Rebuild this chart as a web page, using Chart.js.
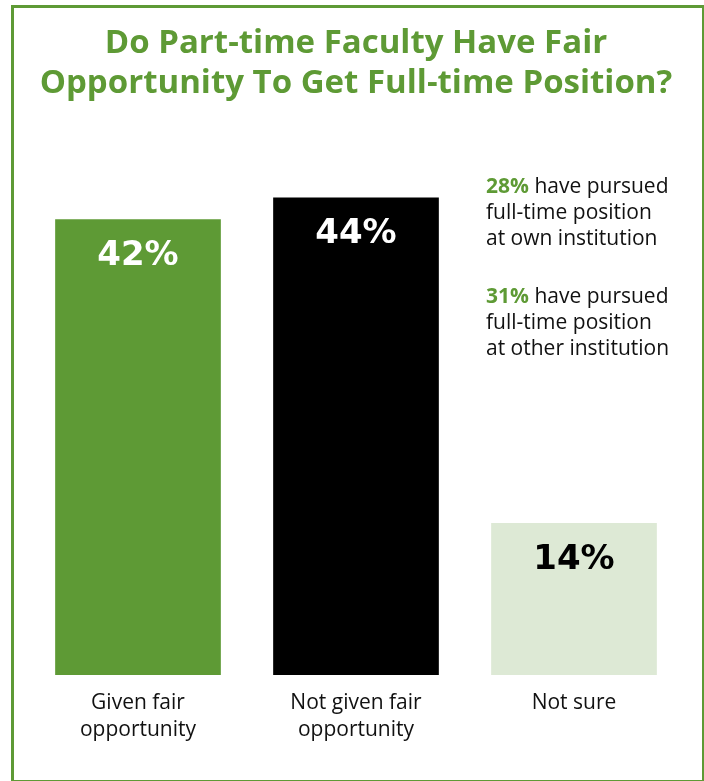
<!DOCTYPE html>
<html>
<head>
<meta charset="utf-8">
<script src="https://cdn.jsdelivr.net/npm/chart.js@4"></script>
<style>
  html, body { margin: 0; padding: 0; background: #ffffff; }
  #wrap { position: relative; width: 704px; height: 781px; overflow: hidden; }
  #frame { position: absolute; left: 11px; top: 5px; width: 688px; height: 772px;
           border: 3px solid #5e9a35; box-sizing: content-box; pointer-events: none; }
  canvas { position: absolute; left: 0; top: 0; }
</style>
</head>
<body>
<div id="wrap">
  <canvas id="c" width="704" height="781"></canvas>
  <div id="frame"></div>
</div>
<script>
const titleLines = ["Do Part-time Faculty Have Fair", "Opportunity To Get Full-time Position?"];
const categories = [["Given fair", "opportunity"], ["Not given fair", "opportunity"], ["Not sure"]];
const values = [42, 44, 14];
const valueLabels = ["42%", "44%", "14%"];
const barColors = ["#5e9a35", "#000000", "#dde9d5"];
const valueLabelColors = ["#ffffff", "#ffffff", "#000000"];
const notes = [
  { pct: "28%", lines: ["have pursued", "full-time position", "at own institution"] },
  { pct: "31%", lines: ["have pursued", "full-time position", "at other institution"] }
];

const GREEN = "#5e9a35";
const FONT = "'Open Sans', 'Noto Sans', sans-serif";

const valueLabelPlugin = {
  id: 'valueLabels',
  afterDatasetsDraw(chart) {
    const ctx = chart.ctx;
    const meta = chart.getDatasetMeta(0);
    ctx.save();
    ctx.font = "bold 34px 'DejaVu Sans', sans-serif";
    ctx.textAlign = "center";
    ctx.textBaseline = "middle";
    meta.data.forEach((bar, i) => {
      ctx.fillStyle = valueLabelColors[i];
      ctx.fillText(valueLabels[i], bar.x, bar.y + 37);
    });
    ctx.restore();
  }
};

const notesPlugin = {
  id: 'notes',
  afterDraw(chart) {
    const ctx = chart.ctx;
    ctx.save();
    ctx.textAlign = "left";
    ctx.textBaseline = "alphabetic";
    const x0 = 486;
    const baselines = [193, 303];
    const lh = 26;
    notes.forEach((n, k) => {
      let y = baselines[k];
      ctx.font = "bold 21px " + FONT;
      ctx.fillStyle = GREEN;
      ctx.fillText(n.pct, x0, y);
      const w = ctx.measureText(n.pct).width;
      ctx.font = "21px " + FONT;
      ctx.fillStyle = "#111111";
      const sp = ctx.measureText(" ").width;
      ctx.fillText(n.lines[0], x0 + w + sp, y);
      for (let i = 1; i < n.lines.length; i++) {
        ctx.fillText(n.lines[i], x0, y + i * lh);
      }
    });
    ctx.restore();
  }
};

new Chart(document.getElementById('c'), {
  type: 'bar',
  data: {
    labels: categories,
    datasets: [{
      data: values,
      backgroundColor: barColors,
      borderWidth: 0,
      barPercentage: 1.0,
      categoryPercentage: 0.76
    }]
  },
  options: {
    responsive: false,
    animation: false,
    events: [],
    layout: { padding: { left: 29, right: 21, top: 0, bottom: 0 } },
    plugins: {
      legend: { display: false },
      tooltip: { enabled: false },
      title: {
        display: true,
        text: titleLines,
        color: GREEN,
        font: { family: FONT, size: 33, weight: 'bold', lineHeight: 1.212 },
        padding: { top: 24, bottom: 48 }
      }
    },
    scales: {
      x: {
        grid: { display: false, drawTicks: false },
        border: { display: false },
        ticks: {
          color: "#111111",
          font: { family: FONT, size: 21, lineHeight: 1.29 },
          padding: 14,
          maxRotation: 0,
          autoSkip: false
        },
        afterFit(scale) { scale.height = 106; }
      },
      y: {
        display: false,
        min: 0,
        max: 48.2
      }
    }
  },
  plugins: [valueLabelPlugin, notesPlugin]
});
</script>
</body>
</html>
